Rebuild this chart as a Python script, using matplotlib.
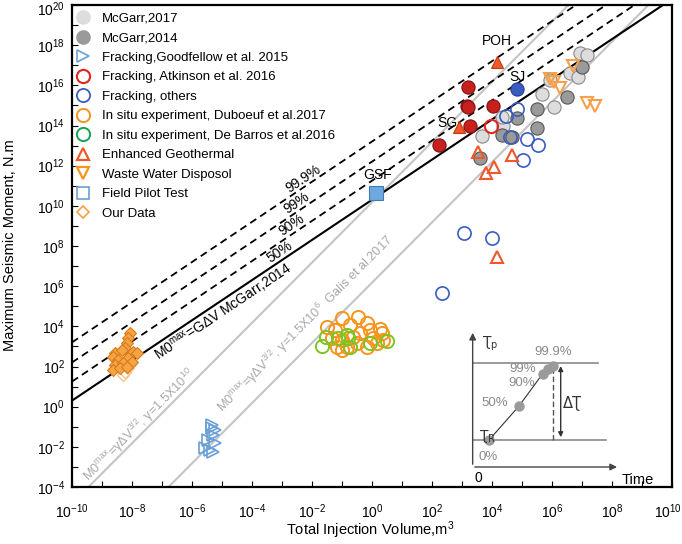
import numpy as np
import matplotlib
matplotlib.use('Agg')
import matplotlib.pyplot as plt
from matplotlib import font_manager as fm
from matplotlib.lines import Line2D
from matplotlib.transforms import ScaledTranslation

names = {f.name for f in fm.fontManager.ttflist}
BASE = 'Liberation Sans' if 'Liberation Sans' in names else 'DejaVu Sans'
NARROW = 'Liberation Sans Narrow' if 'Liberation Sans Narrow' in names else BASE
plt.rcParams['font.family'] = [BASE, 'DejaVu Sans']
plt.rcParams['mathtext.fontset'] = 'custom'
plt.rcParams['mathtext.rm'] = BASE
plt.rcParams['mathtext.it'] = BASE + ':italic'
plt.rcParams['mathtext.bf'] = BASE + ':bold'
plt.rcParams['mathtext.default'] = 'regular'

# ---------------- data (log10 of volume m^3, log10 of moment N.m) -------------
mcgarr2017_logV = [6.93, 7.16, 6.60, 6.88, 5.93, 5.66, 6.07, 4.38, 3.66, 4.32]
mcgarr2017_logM = [17.59, 17.51, 16.63, 16.40, 16.26, 15.57, 14.91, 13.97, 13.48, 14.44]
mcgarr2014_logV = [6.99, 6.51, 5.51, 4.82, 4.32, 4.66, 5.51, 3.60]
mcgarr2014_logM = [16.93, 15.40, 14.81, 14.36, 13.53, 13.44, 13.87, 12.37]
goodfellow_logV = [-5.34, -5.29, -5.46, -5.23, -5.57, -5.40, -5.29, -5.34, -5.23]
goodfellow_logM = [-1.08, -1.41, -1.66, -1.83, -2.08, -2.16, -2.26, -0.93, -1.18]
atkinson_fill_logV = [3.21, 3.16, 3.20, 4.04, 3.27, 2.24]
atkinson_fill_logM = [15.90, 14.97, 14.92, 14.97, 13.97, 13.01]
atkinson_open_logV = [3.97]
atkinson_open_logM = [13.97]
others_fill_logV = [4.84]
others_fill_logM = [15.80]
others_open_logV = [4.47, 4.84, 4.60, 5.16, 5.52, 5.02, 3.08, 3.99, 2.34]
others_open_logM = [14.47, 14.84, 13.44, 13.31, 13.01, 12.28, 8.66, 8.38, 5.67]
duboeuf_logV = [-1.01, -0.46, -0.18, -1.23, -0.73, -0.07, 0.27, 0.32, -1.34, -1.01, -0.62,
                -0.40, 0.04, 0.38, -1.18, -0.84, -0.51, -0.18, 0.16, -1.01, -1.50]
duboeuf_logM = [4.40, 4.48, 4.18, 3.81, 4.06, 3.81, 3.85, 3.65, 3.40, 3.32, 3.48,
                3.65, 3.40, 3.32, 2.98, 2.98, 3.15, 2.98, 3.15, 2.82, 3.96]
debarros_logV = [-1.68, -1.53, -1.12, -0.84, -0.79, -0.73, -0.07, 0.49]
debarros_logM = [3.02, 3.48, 3.40, 3.57, 3.40, 2.98, 3.18, 3.28]
egs_fill_logV = [4.16, 2.91]
egs_fill_logM = [17.18, 13.91]
egs_open_logV = [3.54, 4.66, 4.08, 3.80, 4.16]
egs_open_logM = [12.69, 12.53, 11.95, 11.65, 7.47]
waste_logV = [6.69, 5.93, 6.07, 6.27, 7.18, 7.43]
waste_logM = [16.96, 16.30, 16.18, 15.85, 15.13, 14.97]
gsf_logV = [0.13]
gsf_logM = [10.65]
ours_logV = [-8.07, -8.12, -8.18, -8.23, -8.57, -8.34, -7.96, -8.62, -8.46, -8.12, -7.84,
             -8.57, -8.29, -8.01, -8.62, -8.40, -8.18]
ours_logM = [3.65, 3.40, 3.15, 2.90, 2.65, 2.82, 2.73, 2.48, 2.32, 2.40, 2.65,
             2.07, 2.16, 2.24, 1.82, 1.91, 1.99]
ours_faint_logV = [-8.23, -8.12, -8.29, -8.07]
ours_faint_logM = [1.74, 1.91, 1.57, 2.12]

site_names = ['POH', 'SG', 'SJ', 'GSF']
site_logV = [4.17, 2.50, 4.83, 0.20]
site_logM = [18.21, 14.12, 16.41, 11.53]

G_mcgarr = 2.0e10                 # M0 = G * dV
pct_labels = ['50%', '90%', '99%', '99.9%']
pct_offsets = [0.0, 0.95, 1.90, 2.90]   # log10 offsets of the percentile lines
gamma_values = [1.5e10, 1.5e6]

inset_t = [0.10, 0.28, 0.42, 0.455, 0.48]
inset_tau = [0.195, 0.445, 0.68, 0.715, 0.74]
inset_pct = ['0%', '50%', '90%', '99%', '99.9%']

p = lambda a: np.power(10.0, np.asarray(a, dtype=float))

fig = plt.figure(figsize=(6.82, 5.44), dpi=100)
ax = fig.add_axes([72/682, 1-487/544, 600/682, 482/544])
ax.set_xscale('log'); ax.set_yscale('log')
ax.set_xlim(1e-10, 1e10); ax.set_ylim(1e-4, 1e20)

V = np.logspace(-10, 10, 500)
for g in gamma_values:
    ax.plot(V, g * V**1.5, color='#c4c4c4', lw=1.5, zorder=1)
ax.plot(V, G_mcgarr * V, color='k', lw=1.5, zorder=2)
for off in pct_offsets[1:]:
    ax.plot(V, G_mcgarr * V * 10**off, color='k', lw=1.3, ls=(0, (4, 2.6)), zorder=2)

def ang(slope):
    a = ax.transData.transform((1e-2, 1e2))
    b = ax.transData.transform((1e0, 1e2 * 100**slope))
    return np.degrees(np.arctan2(b[1]-a[1], b[0]-a[0]))
a1 = ang(1.0); a15 = ang(1.5)

pct_pos_logV = [-3.07, -2.67, -2.50, -2.30]
for lab, off, lv in zip(pct_labels, pct_offsets, pct_pos_logV):
    ax.text(p(lv), G_mcgarr * p(lv) * 10**(off + 0.45), lab, rotation=a1,
            rotation_mode='anchor', ha='center', va='center', fontsize=10, zorder=3)
ax.text(p(-4.95), p(4.72), r'M0$^{max}$=G$\Delta$V McGarr,2014', rotation=a1,
        rotation_mode='anchor', ha='center', va='center', fontsize=10, zorder=3)
ax.text(p(-7.75), p(-0.95), r'M0$^{max}$=$\gamma\Delta$V$^{3/2}$, $\gamma$=1.5X10$^{10}$',
        rotation=a15, rotation_mode='anchor', ha='center', va='center',
        fontsize=9.2, color='#a8a8a8', zorder=3)
ax.text(p(-4.82), p(-0.5), r'M0$^{max}$=$\gamma\Delta$V$^{3/2}$, $\gamma$=1.5X10$^{6}$  Galis et al.2017',
        rotation=a15, rotation_mode='anchor', ha='left', va='bottom',
        fontsize=9.2, color='#a8a8a8', zorder=3)

ms = 9.5
ax.plot(p(mcgarr2017_logV), p(mcgarr2017_logM), 'o', ms=ms, mfc='#dddddd', mec='#8a8a8a', mew=0.8, zorder=4)
ax.plot(p(mcgarr2014_logV), p(mcgarr2014_logM), 'o', ms=ms, mfc='#9a9a9a', mec='#555555', mew=0.8, zorder=4)
ax.plot(p(atkinson_fill_logV), p(atkinson_fill_logM), 'o', ms=ms, mfc='#c8201e', mec='#7d1414', mew=0.8, zorder=5)
ax.plot(p(atkinson_open_logV), p(atkinson_open_logM), 'o', ms=ms, mfc='none', mec='#e0261f', mew=1.5, zorder=5)
ax.plot(p(others_fill_logV), p(others_fill_logM), 'o', ms=ms, mfc='#3a5cc0', mec='#243d8a', mew=0.8, zorder=5)
ax.plot(p(others_open_logV), p(others_open_logM), 'o', ms=ms, mfc='none', mec='#3a5cc0', mew=1.2, zorder=5)
ax.plot(p(goodfellow_logV), p(goodfellow_logM), '>', ms=8, mfc='none', mec='#6a9fd8', mew=1.2, zorder=5)
ax.plot(p(duboeuf_logV), p(duboeuf_logM), 'o', ms=ms, mfc='none', mec='#f7941d', mew=1.4, zorder=5)
ax.plot(p(debarros_logV), p(debarros_logM), 'o', ms=ms, mfc='none', mec='#7cc520', mew=1.4, zorder=6)
ax.plot(p(egs_fill_logV), p(egs_fill_logM), '^', ms=9, mfc='#f0572a', mec='#c03a12', mew=0.8, zorder=6)
ax.plot(p(egs_open_logV), p(egs_open_logM), '^', ms=9, mfc='none', mec='#f0572a', mew=1.5, zorder=6)
ax.plot(p(waste_logV), p(waste_logM), 'v', ms=9, mfc='none', mec='#f7a04a', mew=1.5, zorder=6)
ax.plot(p(gsf_logV), p(gsf_logM), 's', ms=10, mfc='#6fa8dc', mec='#3d7ab8', mew=0.8, zorder=6)
ax.plot(p(ours_faint_logV), p(ours_faint_logM), 'D', ms=6.5, mfc='none', mec='#fbc38a', mew=1.0, zorder=6)
ax.plot(p(ours_logV), p(ours_logM), 'D', ms=6.5, mfc='#f4a445', mec='#d97a1a', mew=0.8, zorder=7)

for nm, lv, lm in zip(site_names, site_logV, site_logM):
    ax.text(p(lv), p(lm), nm, fontsize=10, ha='center', va='center', zorder=8)

# ticks
xt = np.arange(-10, 11, 2); yt = np.arange(-4, 21, 2)
ax.set_xticks(p(xt)); ax.set_xticklabels([r'$10^{%d}$' % v for v in xt])
ax.set_yticks(p(yt)); ax.set_yticklabels([r'$10^{%d}$' % v for v in yt])
ax.set_xticks(p(np.arange(-9, 10, 2)), minor=True)
ax.set_yticks(p(np.arange(-3, 20, 2)), minor=True)
ax.xaxis.set_minor_formatter(plt.NullFormatter()); ax.yaxis.set_minor_formatter(plt.NullFormatter())
ax.tick_params(which='both', direction='in', length=4, width=0.8, labelsize=10)
ax.tick_params(axis='x', pad=11)
ax.tick_params(axis='y', pad=5)
for lab in ax.get_xticklabels() + ax.get_yticklabels():
    lab.set_fontfamily(NARROW)
for s in ax.spines.values():
    s.set_linewidth(1.6)

# keep the outermost tick labels inside the canvas
last_x = ax.xaxis.get_major_ticks()[-1].label1
last_x.set_transform(last_x.get_transform() + ScaledTranslation(-4/100, 0, fig.dpi_scale_trans))
top_y = ax.yaxis.get_major_ticks()[-1].label1
top_y.set_transform(top_y.get_transform() + ScaledTranslation(0, -3/100, fig.dpi_scale_trans))

fig.text(370/682, 1-530/544, 'Total Injection Volume,m$^3$', ha='center', va='center',
         fontsize=10.5, family=NARROW)
fig.text(10/682, 1-245/544, 'Maximum Seismic Moment, N.m', ha='center', va='center',
         rotation=90, fontsize=10.5, family=NARROW)

# legend
h = [
    Line2D([], [], ls='', marker='o', ms=ms, mfc='#dddddd', mec='#dddddd'),
    Line2D([], [], ls='', marker='o', ms=ms, mfc='#9a9a9a', mec='#9a9a9a'),
    Line2D([], [], ls='', marker='>', ms=8, mfc='none', mec='#6a9fd8', mew=1.2),
    Line2D([], [], ls='', marker='o', ms=ms, mfc='none', mec='#e0261f', mew=1.5),
    Line2D([], [], ls='', marker='o', ms=ms, mfc='none', mec='#3a5cc0', mew=1.3),
    Line2D([], [], ls='', marker='o', ms=ms, mfc='none', mec='#f7941d', mew=1.4),
    Line2D([], [], ls='', marker='o', ms=ms, mfc='none', mec='#12a650', mew=1.4),
    Line2D([], [], ls='', marker='^', ms=9, mfc='none', mec='#f0572a', mew=1.6),
    Line2D([], [], ls='', marker='v', ms=9, mfc='none', mec='#f7941d', mew=1.6),
    Line2D([], [], ls='', marker='s', ms=9, mfc='none', mec='#6a9fd8', mew=1.2),
    Line2D([], [], ls='', marker='D', ms=6, mfc='none', mec='#f7a04a', mew=1.2),
]
labels = ['McGarr,2017', 'McGarr,2014', 'Fracking,Goodfellow et al. 2015',
          'Fracking, Atkinson et al. 2016', 'Fracking, others',
          'In situ experiment, Duboeuf et al.2017', 'In situ experiment, De Barros et al.2016',
          'Enhanced Geothermal', 'Waste Water Disposol', 'Field Pilot Test', 'Our Data']
leg = ax.legend(h, labels, loc='upper left', bbox_to_anchor=(0.0, 0.994), frameon=False,
                fontsize=9.5, handlelength=1.0, handletextpad=0.9, labelspacing=0.55,
                borderpad=0.35, borderaxespad=0.0)
leg.set_zorder(10)

# inset schematic
ia = fig.add_axes([472/682, 1-467/544, 168/682, 137/544])
ia.set_xlim(0, 1); ia.set_ylim(0, 1); ia.axis('off'); ia.patch.set_alpha(0)
arrow_kw = dict(arrowstyle='-|>', color='#444444', lw=1.0, mutation_scale=10)
ia.annotate('', xy=(0.004, 1.0), xytext=(0.004, 0.0), arrowprops=arrow_kw, annotation_clip=False)
ia.annotate('', xy=(0.88, 0.0), xytext=(0.0, 0.0), arrowprops=arrow_kw, annotation_clip=False)
tau_p, tau_r = 0.757, 0.197
ia.plot([0.006, 0.75], [tau_p, tau_p], color='#8a8a8a', lw=1.2)
ia.plot([0.006, 0.80], [tau_r, tau_r], color='#8a8a8a', lw=1.2)
ia.plot(inset_t, inset_tau, color='#333333', lw=0.8, zorder=2)
ia.plot(inset_t, inset_tau, 'o', ms=6.5, mfc='#9a9a9a', mec='#9a9a9a', zorder=3)
ia.plot([inset_t[-1], inset_t[-1]], [tau_r, inset_tau[-1]], color='#555555', lw=1.0, ls=(0, (4, 2)))
ia.annotate('', xy=(0.528, tau_p), xytext=(0.528, tau_r),
            arrowprops=dict(arrowstyle='<|-|>', color='#333333', lw=1.0, mutation_scale=7))
pct_pos = [(0.097, 0.075), (0.137, 0.465), (0.296, 0.615), (0.304, 0.715), (0.484, 0.84)]
for lab, (x, y) in zip(inset_pct, pct_pos):
    ia.text(x, y, lab, color='#8a8a8a', fontsize=9.5, ha='center', va='center')
ia.text(0.60, 0.465, 'ΔƮ', fontsize=10.5, color='#333333', ha='center', va='center',
        family=['DejaVu Sans'])
ia.text(0.11, 0.90, 'Ʈ$_\\mathregular{p}$', fontsize=10, color='#333333', ha='center', va='center',
        family=['DejaVu Sans'])
ia.text(0.09, 0.22, 'Ʈ$_\\mathregular{R}$', fontsize=10, color='#333333', ha='center', va='center',
        family=['DejaVu Sans'])
ia.text(0.036, -0.08, '0', fontsize=10, ha='center', va='center')
ia.text(0.985, -0.095, 'Time', fontsize=10.5, ha='center', va='center')

fig.savefig('out.png', dpi=100)
